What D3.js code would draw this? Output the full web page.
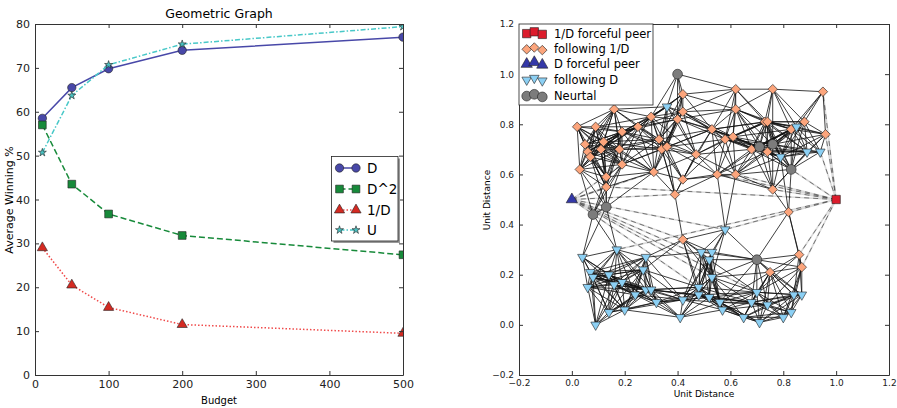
<!DOCTYPE html>
<html>
<head>
<meta charset="utf-8">
<script src="https://cdn.jsdelivr.net/npm/d3@7"></script>
<style>
  body { margin: 0; background: #fff; }
  svg { font-family: "DejaVu Sans", sans-serif; }
</style>
</head>
<body>
<svg id="canvas"></svg>
<script>
// ---- left chart data ----
let budget = [10, 50, 100, 200, 500];
let winD = [58.5, 65.5, 69.8, 74.0, 77.0];
let winD2 = [57.0, 43.5, 36.7, 31.8, 27.4];
let winInvD = [29.0, 20.5, 15.4, 11.5, 9.5];
let winU = [50.7, 63.7, 70.7, 75.4, 79.4];
let seriesNames = ['D', 'D^2', '1/D', 'U'];
let budgetTicks = [0, 100, 200, 300, 400, 500];
let winTicks = [0, 10, 20, 30, 40, 50, 60, 70, 80];

// ---- right chart data (unit distance coords) ----
let followInvD = [
  [0.02,0.79],[0.09,0.79],[0.16,0.86],[0.19,0.77],[0.25,0.79],[0.30,0.83],[0.33,0.74],
  [0.40,0.82],[0.42,0.85],[0.42,0.92],[0.05,0.72],[0.12,0.73],[0.11,0.70],[0.06,0.69],
  [0.07,0.67],[0.18,0.70],[0.34,0.70],[0.36,0.71],[0.47,0.68],[0.53,0.78],[0.58,0.74],
  [0.61,0.75],[0.62,0.86],[0.62,0.94],[0.76,0.94],[0.95,0.93],[0.73,0.81],[0.74,0.81],
  [0.83,0.78],[0.88,0.81],[0.96,0.76],[0.68,0.70],[0.74,0.69],[0.03,0.62],[0.13,0.59],
  [0.19,0.64],[0.31,0.61],[0.42,0.58],[0.55,0.60],[0.62,0.60],[0.39,0.52],[0.76,0.54],
  [0.13,0.55],[0.82,0.45],[0.42,0.34],[0.86,0.28],[0.75,0.21],[0.87,0.23]
];
let followD = [
  [0.36,0.87],[0.85,0.79],[0.79,0.67],[0.89,0.69],[0.94,0.69],
  [0.58,0.38],[0.04,0.27],[0.17,0.30],[0.28,0.27],[0.49,0.29],[0.53,0.29],[0.52,0.26],
  [0.07,0.21],[0.08,0.19],[0.14,0.20],[0.27,0.22],[0.19,0.17],[0.06,0.15],[0.16,0.16],
  [0.28,0.14],[0.30,0.14],[0.24,0.12],[0.32,0.09],[0.14,0.05],[0.20,0.06],[0.09,0.00],
  [0.42,0.10],[0.41,0.03],[0.53,0.19],[0.48,0.15],[0.48,0.12],[0.52,0.11],[0.56,0.09],
  [0.57,0.06],[0.68,0.09],[0.70,0.13],[0.74,0.08],[0.65,0.03],[0.71,0.01],[0.80,0.03],
  [0.83,0.05],[0.84,0.12],[0.87,0.12]
];
let neutral = [[0.40,1.00],[0.71,0.71],[0.76,0.72],[0.83,0.62],[0.13,0.47],[0.08,0.44],[0.70,0.26]];
let invDPeer = [[1.0, 0.5]];
let dPeer = [[0.0, 0.5]];
let invDPeerLinks = [[0.95,0.93],[0.96,0.76],[0.83,0.62],[0.94,0.69],[0.76,0.54],[0.62,0.60],
  [0.55,0.60],[0.13,0.55],[0.17,0.30],[0.58,0.38],[0.86,0.28],[0.87,0.23]];
let dPeerLinks = [[0.53,0.19],[0.52,0.26],[0.70,0.13],[0.48,0.15],[0.58,0.38],[0.42,0.34],
  [0.13,0.55],[0.19,0.64],[0.31,0.61],[0.39,0.52]];
let legendNames = ['1/D forceful peer', 'following 1/D', 'D forceful peer', 'following D', 'Neurtal'];
let distTicks = [-0.2, 0.0, 0.2, 0.4, 0.6, 0.8, 1.0, 1.2];
let linkRadius = 0.23;

let width = 897;
let height = 408;

let canvas = d3.select('#canvas').attr('width', width).attr('height', height);

let xScale = d3.scaleLinear().domain([0, 500]).range([35, 403]);
let yScale = d3.scaleLinear().domain([0, 80]).range([375, 24]);
let dxScale = d3.scaleLinear().domain([-0.2, 1.2]).range([519, 889]);
let dyScale = d3.scaleLinear().domain([-0.2, 1.2]).range([375, 24]);

let defs = canvas.append('defs');
defs.append('clipPath').attr('id', 'clipLeft').append('rect')
  .attr('x', 35).attr('y', 24).attr('width', 368).attr('height', 351);
defs.append('clipPath').attr('id', 'clipRight').append('rect')
  .attr('x', 519).attr('y', 24).attr('width', 370).attr('height', 351);

let drawAxes = (x, y, xTicks, yTicks, fmt, fontSize) => {
  let [x0, x1] = x.range();
  let [y0, y1] = y.range();
  let axes = [
    [d3.axisBottom(x).tickValues(xTicks).tickFormat(fmt), `translate(0,${y0})`],
    [d3.axisTop(x).tickValues(xTicks).tickFormat(''), `translate(0,${y1})`],
    [d3.axisLeft(y).tickValues(yTicks).tickFormat(fmt), `translate(${x0},0)`],
    [d3.axisRight(y).tickValues(yTicks).tickFormat(''), `translate(${x1},0)`]
  ];
  axes.forEach(([ax, tr]) => {
    let g = canvas.append('g')
      .attr('transform', tr)
      .call(ax.tickSize(-4).tickSizeOuter(0).tickPadding(5));
    g.select('.domain').attr('stroke', '#333');
    g.selectAll('.tick line').attr('stroke', '#333');
    g.selectAll('text').attr('font-size', fontSize).attr('fill', '#222')
      .attr('font-family', 'DejaVu Sans');
  });
};

// ================= left chart =================
let seriesData = [winD, winD2, winInvD, winU];
let seriesStyle = [
  { stroke: '#4848a8', fill: '#4848a8', dash: null, sym: d3.symbolCircle, size: 55 },
  { stroke: '#178a3a', fill: '#178a3a', dash: '6,3', sym: d3.symbolSquare, size: 60 },
  { stroke: '#f04a4a', fill: '#d42a22', dash: '1.5,2', sym: d3.symbolTriangle, size: 45 },
  { stroke: '#48c8c8', fill: '#48c0c0', dash: '5,2,1.5,2', sym: d3.symbolStar, size: 20 }
];

let leftPlot = canvas.append('g').attr('clip-path', 'url(#clipLeft)');

seriesData.forEach((vals, i) => {
  let st = seriesStyle[i];
  let pts = budget.map((b, j) => [b, vals[j]]);
  let line = d3.line().x(d => xScale(d[0])).y(d => yScale(d[1]));
  leftPlot.append('path')
    .attr('d', line(pts))
    .attr('fill', 'none')
    .attr('stroke', st.stroke)
    .attr('stroke-width', 1.5)
    .attr('stroke-dasharray', st.dash);
  leftPlot.selectAll(null)
    .data(pts)
    .enter()
    .append('path')
    .attr('d', d3.symbol(st.sym, st.size))
    .attr('transform', d => `translate(${xScale(d[0])},${yScale(d[1])})`)
    .attr('fill', st.fill)
    .attr('stroke', '#222')
    .attr('stroke-width', 0.6);
});

drawAxes(xScale, yScale, budgetTicks, winTicks, d3.format('d'), 11);

canvas.append('text').attr('x', 219).attr('y', 18).attr('text-anchor', 'middle')
  .attr('font-size', 12.5).text('Geometric Graph');
canvas.append('text').attr('x', 219).attr('y', 404).attr('text-anchor', 'middle')
  .attr('font-size', 10).text('Budget');
canvas.append('text').attr('transform', 'translate(13,200) rotate(-90)')
  .attr('text-anchor', 'middle').attr('font-size', 11).text('Average Winning %');

// left legend
let lg = canvas.append('g');
lg.append('rect').attr('x', 333.5).attr('y', 158.5).attr('width', 66.5).attr('height', 84.5)
  .attr('fill', '#999');
lg.append('rect').attr('x', 331.5).attr('y', 156.5).attr('width', 66.5).attr('height', 84.5)
  .attr('fill', '#fff').attr('stroke', '#222').attr('stroke-width', 0.8);
let legRowY = [168, 189, 210, 230];
seriesNames.forEach((name, i) => {
  let st = seriesStyle[i];
  let yy = legRowY[i];
  lg.append('line').attr('x1', 339.5).attr('x2', 356).attr('y1', yy).attr('y2', yy)
    .attr('stroke', st.stroke).attr('stroke-width', 1.5).attr('stroke-dasharray', st.dash);
  [339.5, 356].forEach(xx => {
    lg.append('path').attr('d', d3.symbol(st.sym, st.size))
      .attr('transform', `translate(${xx},${yy})`)
      .attr('fill', st.fill).attr('stroke', '#222').attr('stroke-width', 0.6);
  });
  lg.append('text').attr('x', 367).attr('y', yy + 5).attr('font-size', 13.5).text(name);
});

// ================= right chart =================
let rightPlot = canvas.append('g').attr('clip-path', 'url(#clipRight)');

let dashLinks = invDPeerLinks.map(t => [invDPeer[0], t]).concat(dPeerLinks.map(t => [dPeer[0], t]));
rightPlot.selectAll(null).data(dashLinks).enter().append('line')
  .attr('x1', d => dxScale(d[0][0])).attr('y1', d => dyScale(d[0][1]))
  .attr('x2', d => dxScale(d[1][0])).attr('y2', d => dyScale(d[1][1]))
  .attr('stroke', '#dadada').attr('stroke-width', 1.6);
rightPlot.selectAll(null).data(dashLinks).enter().append('line')
  .attr('x1', d => dxScale(d[0][0])).attr('y1', d => dyScale(d[0][1]))
  .attr('x2', d => dxScale(d[1][0])).attr('y2', d => dyScale(d[1][1]))
  .attr('stroke', '#333').attr('stroke-width', 0.9).attr('stroke-opacity', 0.7)
  .attr('stroke-dasharray', '5,4');

// geometric graph links: nodes closer than linkRadius
let allNodes = followInvD.concat(followD, neutral);
let links = [];
allNodes.forEach((a, i) => {
  for (let j = i + 1; j < allNodes.length; j++) {
    let b = allNodes[j];
    if (Math.hypot(a[0] - b[0], a[1] - b[1]) < linkRadius) links.push([a, b]);
  }
});
rightPlot.selectAll(null).data(links).enter().append('line')
  .attr('x1', d => dxScale(d[0][0])).attr('y1', d => dyScale(d[0][1]))
  .attr('x2', d => dxScale(d[1][0])).attr('y2', d => dyScale(d[1][1]))
  .attr('stroke', '#111').attr('stroke-width', 0.9).attr('stroke-opacity', 0.9);

let nodeGroups = [
  { pts: invDPeer, sym: d3.symbolSquare, size: 70, rot: 0, fill: '#dc1c2c' },
  { pts: followInvD, sym: d3.symbolSquare, size: 45, rot: 45, fill: '#fca57c' },
  { pts: dPeer, sym: d3.symbolTriangle, size: 55, rot: 0, fill: '#3438a8' },
  { pts: followD, sym: d3.symbolTriangle, size: 40, rot: 180, fill: '#8cd0f4' },
  { pts: neutral, sym: d3.symbolCircle, size: 75, rot: 0, fill: '#7c7c7c' }
];
let drawOrder = [1, 3, 4, 0, 2];
drawOrder.forEach(k => {
  let ng = nodeGroups[k];
  rightPlot.selectAll(null).data(ng.pts).enter().append('path')
    .attr('d', d3.symbol(ng.sym, ng.size))
    .attr('transform', d => `translate(${dxScale(d[0])},${dyScale(d[1])}) rotate(${ng.rot})`)
    .attr('fill', ng.fill).attr('stroke', '#222').attr('stroke-width', 0.6);
});

drawAxes(dxScale, dyScale, distTicks, distTicks, d3.format('.1f'), 9);

canvas.append('text').attr('x', 704).attr('y', 397).attr('text-anchor', 'middle')
  .attr('font-size', 9).text('Unit Distance');
canvas.append('text').attr('transform', 'translate(490,200) rotate(-90)')
  .attr('text-anchor', 'middle').attr('font-size', 9).text('Unit Distance');

// right legend
let rg = canvas.append('g');
rg.append('rect').attr('x', 519).attr('y', 24).attr('width', 134).attr('height', 81)
  .attr('fill', '#fff').attr('stroke', '#222').attr('stroke-width', 0.8);
let rowY = [33, 48.7, 63.5, 79.3, 95.5];
let scatterOff = [0.6, -1.2, 1.4];
let markX = [526.7, 534.3, 542.3];
nodeGroups.forEach((ng, i) => {
  markX.forEach((xx, j) => {
    rg.append('path').attr('d', d3.symbol(ng.sym, ng.size))
      .attr('transform', `translate(${xx},${rowY[i] + scatterOff[j]}) rotate(${ng.rot})`)
      .attr('fill', ng.fill).attr('stroke', '#222').attr('stroke-width', 0.6);
  });
  rg.append('text').attr('x', 554).attr('y', rowY[i] + 4.5).attr('font-size', 11.5)
    .text(legendNames[i]);
});
</script>
</body>
</html>
